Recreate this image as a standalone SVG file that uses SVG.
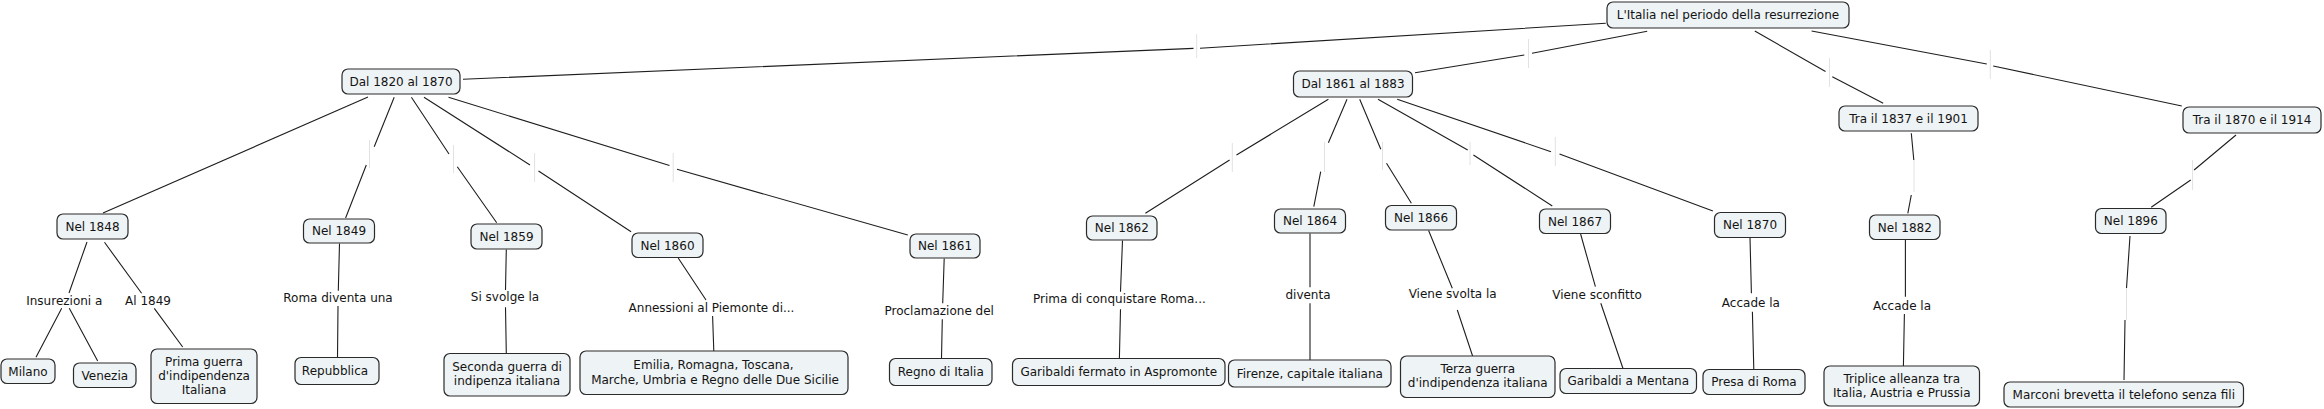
<svg xmlns="http://www.w3.org/2000/svg" width="2324" height="409" viewBox="0 0 2324 409">
<style>
.n rect{fill:#eef3f5;stroke:#2a2a2a;stroke-width:1.2}
text{font-family:"DejaVu Sans",Verdana,sans-serif;font-size:12px;fill:#141414}
.n text,.lbl{text-anchor:middle}
#connectors path{fill:none;stroke:#1e1e1e;stroke-width:1.1}
#connectors line.tick{stroke:#e2e2e2;stroke-width:1}
</style>
<rect width="2324" height="409" fill="#ffffff"/>
<g id="connectors">
<path d="M463,79.3 L1193.5,48.4 M1200,48.2 L1605.8,23.3"/>
<path d="M1647.2,31.3 L1532,53.3 M1524.3,55 L1415,72.7"/>
<path d="M1754.8,31 L1825.5,71.5 M1832.3,76.7 L1883.2,103.3"/>
<path d="M1811.6,31 L1986.8,64 M1993.2,66 L2181.8,106"/>
<path d="M368,97 L103,213"/>
<path d="M394.2,97.3 L374.2,146.7 M366.3,165 L345.6,218"/>
<path d="M411.4,97.3 L449,154 M457.3,166.7 L496.7,222.7"/>
<path d="M424,97.3 L530,165 M538.5,171 L631.1,231.7"/>
<path d="M448.5,97.3 L669.5,165.5 M677,169.3 L907.8,235"/>
<path d="M1328.4,99.3 L1236.5,155 M1229.6,160 L1145.4,213.3"/>
<path d="M1347,99.3 L1328.4,142.7 M1320.7,171.7 L1313.8,206.7"/>
<path d="M1359.7,99.3 L1380.8,149.3 M1386.5,163.3 L1411.4,203.3"/>
<path d="M1378,99.3 L1467.7,150 M1473.4,155 L1552.3,206"/>
<path d="M1397.2,99.3 L1551,151.7 M1559.5,154 L1712.9,211"/>
<path d="M1911.3,133.3 L1913.8,160 M1911.3,195 L1907.8,213.3"/>
<path d="M2236,135 L2194.1,170 M2190.7,180 L2151.2,207.3"/>
<path d="M2130,236 L2126.5,288.3 M2125,320 L2124,380"/>
<path d="M87,242 L69,293 M61.7,308.3 L36,357.3 M69.3,308.3 L97.7,361"/>
<path d="M104.5,242.3 L141.6,293.3 M154.3,308.3 L182.7,347"/>
<path d="M339.5,243.5 L338.3,290.7 M338,306 L337.5,357.5"/>
<path d="M506.3,249.5 L505.5,290 M505.5,307.3 L506.3,353.5"/>
<path d="M678.2,258 L706,300 M712.6,316 L713.8,351"/>
<path d="M944.2,258.5 L942.7,303.3 M942.3,319.3 L941.5,358.5"/>
<path d="M1122.5,240.5 L1120.5,291.7 M1120.5,309.3 L1119.4,358.5"/>
<path d="M1310,233.5 L1310,287.3 M1310,303.3 L1310,360"/>
<path d="M1428.6,230.5 L1452.3,288.3 M1457.3,310 L1472.6,356"/>
<path d="M1580.6,234 L1595.4,286.7 M1600.8,303.3 L1623,368.5"/>
<path d="M1750,237.5 L1751.4,293.3 M1752.4,311.7 L1753.8,369.5"/>
<path d="M1905.4,239.5 L1905.4,296.7 M1904.4,314 L1903.4,366"/>
<line class="tick" x1="1196.7" y1="34" x2="1196.7" y2="58"/>
<line class="tick" x1="1528.5" y1="39" x2="1528.5" y2="68"/>
<line class="tick" x1="1829.5" y1="58" x2="1829.5" y2="87"/>
<line class="tick" x1="1990.3" y1="50" x2="1990.3" y2="79"/>
<line class="tick" x1="369.5" y1="140" x2="369.5" y2="168"/>
<line class="tick" x1="453.5" y1="145" x2="453.5" y2="173"/>
<line class="tick" x1="534.6" y1="153" x2="534.6" y2="182"/>
<line class="tick" x1="673.2" y1="153" x2="673.2" y2="182"/>
<line class="tick" x1="1232.3" y1="143" x2="1232.3" y2="172"/>
<line class="tick" x1="1324.5" y1="142" x2="1324.5" y2="172"/>
<line class="tick" x1="1382.5" y1="142" x2="1382.5" y2="170"/>
<line class="tick" x1="1470" y1="142" x2="1470" y2="165"/>
<line class="tick" x1="1555.3" y1="137" x2="1555.3" y2="166"/>
<line class="tick" x1="1914" y1="160" x2="1914" y2="192"/>
<line class="tick" x1="2192.6" y1="160" x2="2192.6" y2="190"/>
<line class="tick" x1="2126.5" y1="288" x2="2126.5" y2="320"/>
</g>
<g id="linking-phrases">
<text class="lbl" x="64.3" y="305">Insurezioni a</text>
<text class="lbl" x="148" y="305">Al 1849</text>
<text class="lbl" x="338" y="302">Roma diventa una</text>
<text class="lbl" x="505" y="301">Si svolge la</text>
<text class="lbl" x="711.5" y="312">Annessioni al Piemonte di...</text>
<text class="lbl" x="939.2" y="315.3">Proclamazione del</text>
<text class="lbl" x="1119.4" y="303.3">Prima di conquistare Roma...</text>
<text class="lbl" x="1308" y="299.3">diventa</text>
<text class="lbl" x="1452.7" y="298.3">Viene svolta la</text>
<text class="lbl" x="1597" y="299.3">Viene sconfitto</text>
<text class="lbl" x="1750.9" y="307">Accade la</text>
<text class="lbl" x="1902" y="310">Accade la</text>
</g>
<g id="n-root" class="n"><rect x="1607" y="2" width="242" height="26" rx="6"/><text x="1728" y="19.3">L'Italia nel periodo della resurrezione</text></g>
<g id="n-1820" class="n"><rect x="342" y="69" width="118" height="25" rx="6"/><text x="401" y="85.8">Dal 1820 al 1870</text></g>
<g id="n-1861-83" class="n"><rect x="1293.5" y="71" width="119" height="26" rx="6"/><text x="1353" y="88.3">Dal 1861 al 1883</text></g>
<g id="n-1837" class="n"><rect x="1839" y="106" width="139" height="25" rx="6"/><text x="1908.5" y="122.8">Tra il 1837 e il 1901</text></g>
<g id="n-1870-1914" class="n"><rect x="2183" y="107" width="138" height="26" rx="6"/><text x="2252" y="124.3">Tra il 1870 e il 1914</text></g>
<g id="n-1848" class="n"><rect x="57" y="214" width="71" height="25" rx="6"/><text x="92.5" y="230.8">Nel 1848</text></g>
<g id="n-1849" class="n"><rect x="303.5" y="219" width="71" height="24" rx="6"/><text x="339" y="235.3">Nel 1849</text></g>
<g id="n-1859" class="n"><rect x="471" y="224" width="71" height="25" rx="6"/><text x="506.5" y="240.8">Nel 1859</text></g>
<g id="n-1860" class="n"><rect x="632" y="233" width="71" height="24.5" rx="6"/><text x="667.5" y="249.5">Nel 1860</text></g>
<g id="n-1861" class="n"><rect x="910" y="234" width="70" height="24" rx="6"/><text x="945" y="250.3">Nel 1861</text></g>
<g id="n-1862" class="n"><rect x="1086.5" y="216" width="70.5" height="24" rx="6"/><text x="1121.8" y="232.3">Nel 1862</text></g>
<g id="n-1864" class="n"><rect x="1274.5" y="209" width="71" height="24" rx="6"/><text x="1310" y="225.3">Nel 1864</text></g>
<g id="n-1866" class="n"><rect x="1385.5" y="205.5" width="71" height="24.5" rx="6"/><text x="1421" y="222">Nel 1866</text></g>
<g id="n-1867" class="n"><rect x="1539.5" y="209" width="71" height="24.5" rx="6"/><text x="1575" y="225.5">Nel 1867</text></g>
<g id="n-1870" class="n"><rect x="1714.5" y="212.5" width="71" height="25" rx="6"/><text x="1750" y="229.3">Nel 1870</text></g>
<g id="n-1882" class="n"><rect x="1869.5" y="215" width="70.5" height="24.5" rx="6"/><text x="1904.8" y="231.5">Nel 1882</text></g>
<g id="n-1896" class="n"><rect x="2095.5" y="208.5" width="70.5" height="25" rx="6"/><text x="2130.8" y="225.3">Nel 1896</text></g>
<g id="n-milano" class="n"><rect x="1" y="359" width="54" height="24.5" rx="6"/><text x="28" y="375.5">Milano</text></g>
<g id="n-venezia" class="n"><rect x="73.5" y="363" width="62.5" height="24.5" rx="6"/><text x="104.8" y="379.5">Venezia</text></g>
<g id="n-prima" class="n"><rect x="151" y="349" width="106" height="54.5" rx="6"/><text x="204" y="366"><tspan x="204">Prima guerra</tspan><tspan x="204" dy="14.2">d'indipendenza</tspan><tspan x="204" dy="14.2">Italiana</tspan></text></g>
<g id="n-repubblica" class="n"><rect x="295" y="357.5" width="84" height="27" rx="6"/><text x="335" y="375.3">Repubblica</text></g>
<g id="n-seconda" class="n"><rect x="444" y="353.5" width="126" height="42.5" rx="6"/><text x="507" y="371"><tspan x="507">Seconda guerra di</tspan><tspan x="507" dy="14">indipenza italiana</tspan></text></g>
<g id="n-emilia" class="n"><rect x="580" y="351" width="268" height="43.5" rx="6"/><text x="714" y="369.3"><tspan x="713.5">Emilia, Romagna, Toscana,</tspan><tspan x="715" dy="14.3">Marche, Umbria e Regno delle Due Sicilie</tspan></text></g>
<g id="n-regno" class="n"><rect x="889.5" y="358.5" width="102.5" height="27" rx="6"/><text x="940.8" y="376.3">Regno di Italia</text></g>
<g id="n-aspromonte" class="n"><rect x="1012.5" y="358.5" width="212.5" height="27" rx="6"/><text x="1118.8" y="376.3">Garibaldi fermato in Aspromonte</text></g>
<g id="n-firenze" class="n"><rect x="1228.5" y="360" width="162.5" height="27" rx="6"/><text x="1309.8" y="377.8">Firenze, capitale italiana</text></g>
<g id="n-terza" class="n"><rect x="1400.5" y="356" width="154.5" height="41.5" rx="6"/><text x="1477.8" y="372.6"><tspan x="1477.8">Terza guerra</tspan><tspan x="1477.8" dy="14.4">d'indipendenza italiana</tspan></text></g>
<g id="n-mentana" class="n"><rect x="1560" y="368.5" width="136.5" height="25" rx="6"/><text x="1628.3" y="385.3">Garibaldi a Mentana</text></g>
<g id="n-presa" class="n"><rect x="1703" y="369.5" width="102" height="25" rx="6"/><text x="1754" y="386.3">Presa di Roma</text></g>
<g id="n-triplice" class="n"><rect x="1824" y="366" width="155.5" height="40" rx="6"/><text x="1901.8" y="382.6"><tspan x="1901.8">Triplice alleanza tra</tspan><tspan x="1901.8" dy="14.4">Italia, Austria e Prussia</tspan></text></g>
<g id="n-marconi" class="n"><rect x="2004" y="382" width="239.5" height="25" rx="6"/><text x="2123.8" y="398.8">Marconi brevetta il telefono senza fili</text></g>
</svg>
